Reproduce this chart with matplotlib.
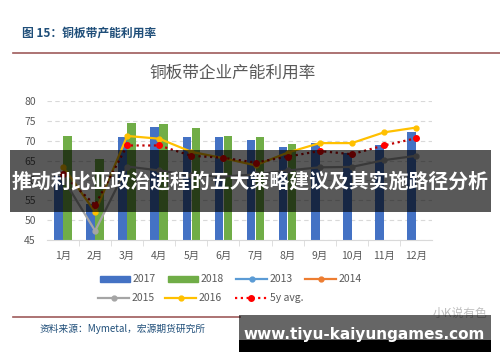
import matplotlib
matplotlib.use('Agg')
import matplotlib.pyplot as plt
import numpy as np
from matplotlib.lines import Line2D
from matplotlib.patches import Rectangle

plt.rcParams['font.family'] = ['Noto Sans CJK SC', 'DejaVu Sans']

# Data (Jan..Dec); 2018 stops at August.
months = ['1月', '2月', '3月', '4月', '5月', '6月',
          '7月', '8月', '9月', '10月', '11月', '12月']
y2017 = [61.0, 54.0, 71.0, 73.5, 71.0, 71.0, 70.2, 68.3, 69.4, 67.0, 68.9, 72.1]
y2018 = [71.2, 65.4, 74.5, 74.1, 73.3, 71.1, 71.0, 69.2]
y2015 = [60.5, 47.3, 63.5, 62.5, 61.3, 61.0, 61.5, 62.5, 63.3, 63.4, 65.1, 66.2]
y2016 = [63.5, 52.0, 71.2, 70.5, 67.2, 65.6, 63.8, 67.0, 69.4, 69.4, 72.1, 73.3]
avg5 = [61.5, 53.8, 68.8, 68.8, 66.2, 65.7, 64.5, 66.0, 67.4, 66.6, 68.8, 70.6]
yticks = [45, 50, 55, 60, 65, 70, 75, 80]

W, H = 500, 362
C_2017 = '#4472C4'
C_2018 = '#70AD47'
C_2013 = '#5B9BD5'
C_2014 = '#ED7D31'
C_2015 = '#A5A5A5'
C_2016 = '#FFC000'
C_AVG_LINE = '#C00000'
C_AVG_MARK = '#FF0000'
GREY_TXT = '#595959'
RULE = '#9E5B5B'


def fx(x):
    return x / W


def fy(y):
    return 1 - y / H


fig = plt.figure(figsize=(5, 3.62), dpi=100)
fig.patch.set_facecolor('white')

# plot area: x 47..432, y 101..240 in pixels
ax = fig.add_axes([fx(47), fy(240), (432 - 47) / W, (240 - 101) / H])
x = np.arange(len(months))
bw = 0.27
ax.bar(x[:len(y2017)] - 0.14, y2017, bw, bottom=0, color=C_2017, zorder=2)
ax.bar(x[:len(y2018)] + 0.14, y2018, bw, bottom=0, color=C_2018, zorder=2)
ax.plot(x, y2015, color=C_2015, lw=1.6, marker='o', ms=3.5, zorder=3)
ax.plot(x, y2016, color=C_2016, lw=1.6, marker='o', ms=3.5, zorder=4)
ax.plot(x, avg5, color=C_AVG_LINE, lw=1.6, ls=(0, (1, 1.6)), marker='o', ms=4,
        mfc=C_AVG_MARK, mec=C_AVG_MARK, zorder=5)

ax.set_xlim(-0.5, len(months) - 0.5)
ax.set_ylim(45, 80)
ax.set_yticks(yticks)
ax.yaxis.grid(True, ls=(0, (4, 3)), color='#D9D9D9', lw=0.8, zorder=0)
ax.set_axisbelow(True)
for s in ['top', 'right', 'left']:
    ax.spines[s].set_visible(False)
ax.spines['bottom'].set_color('#D9D9D9')
ax.spines['bottom'].set_zorder(6)
ax.tick_params(axis='y', length=0, labelsize=7.5, labelcolor=GREY_TXT, pad=8)
ax.set_xticks(x)
ax.set_xticklabels(months)
ax.set_xticks(np.arange(0.5, len(months) - 0.5), minor=True)
ax.tick_params(axis='x', which='major', length=0, labelsize=7.5,
               labelcolor=GREY_TXT, pad=8)
ax.tick_params(axis='x', which='minor', length=4, color='#D9D9D9', direction='out')

# headings and rules
fig.text(fx(22), fy(33), '图 15：铜板带产能利用率', fontsize=8.5, fontweight='bold',
         color='#1F4E79', va='center', ha='left')
fig.add_artist(Line2D([fx(13), fx(500)], [fy(53), fy(53)], color=RULE, lw=1.2))
fig.text(fx(233), fy(73), '铜板带企业产能利用率', fontsize=12, color=GREY_TXT,
         va='center', ha='center')

# legend, drawn by hand to match the two-row layout
ly1, ly2 = fy(279), fy(298)
rh = 6 / H
for x0, col, lab in [(100, C_2017, '2017'), (168, C_2018, '2018')]:
    fig.add_artist(Rectangle((fx(x0), ly1 - rh / 2), 30 / W, rh,
                             color=col, transform=fig.transFigure))
    fig.text(fx(x0 + 33), ly1, lab, fontsize=7.5, color=GREY_TXT, va='center')
for x0, y0, col, lab, ls in [(236, ly1, C_2013, '2013', '-'),
                             (305, ly1, C_2014, '2014', '-'),
                             (98, ly2, C_2015, '2015', '-'),
                             (165, ly2, C_2016, '2016', '-')]:
    fig.add_artist(Line2D([fx(x0), fx(x0 + 31)], [y0, y0], color=col, lw=1.6))
    fig.add_artist(Line2D([fx(x0 + 15.5)], [y0], color=col, marker='o', ms=3.5))
    fig.text(fx(x0 + 34), y0, lab, fontsize=7.5, color=GREY_TXT, va='center')
fig.add_artist(Line2D([fx(235), fx(267)], [ly2, ly2], color=C_AVG_MARK, lw=1.6,
                      ls=(0, (1, 1.6))))
fig.add_artist(Line2D([fx(251)], [ly2], color=C_AVG_MARK, marker='o', ms=4))
fig.text(fx(270), ly2, '5y avg.', fontsize=7.5, color=GREY_TXT, va='center')

# source line
fig.add_artist(Line2D([fx(13), fx(240)], [fy(317), fy(317)], color=RULE, lw=1.2))
fig.text(fx(40), fy(329), '资料来源：Mymetal，宏源期货研究所', fontsize=7,
         color='#1F4E79', style='italic', va='center')
fig.text(fx(487), fy(313), '小K说有色', fontsize=8.5, color='#BFBFBF',
         va='center', ha='right')

# overlay banner across the chart
fig.add_artist(Rectangle((fx(10), fy(212)), 481 / W, 62 / H, color='black',
                         alpha=0.65, lw=0, transform=fig.transFigure, zorder=10))
fig.text(fx(250), fy(181), '推动利比亚政治进程的五大策略建议及其实施路径分析',
         fontsize=14.3, fontweight='bold', color='white', va='center',
         ha='center', zorder=11)

# bottom-right url box
fig.add_artist(Rectangle((fx(239), fy(340)), 252 / W, 25 / H, color='black',
                         alpha=0.6, lw=0, transform=fig.transFigure, zorder=10))
fig.add_artist(Rectangle((fx(239), fy(352)), 252 / W, 12 / H, color='black',
                         lw=0, transform=fig.transFigure, zorder=10))
fig.text(fx(364), fy(334), 'www.tiyu-kaiyungames.com', fontsize=11,
         fontweight='bold', color='white', va='center', ha='center',
         family='DejaVu Sans', zorder=11)

fig.savefig('out.png', dpi=100, facecolor='white')
